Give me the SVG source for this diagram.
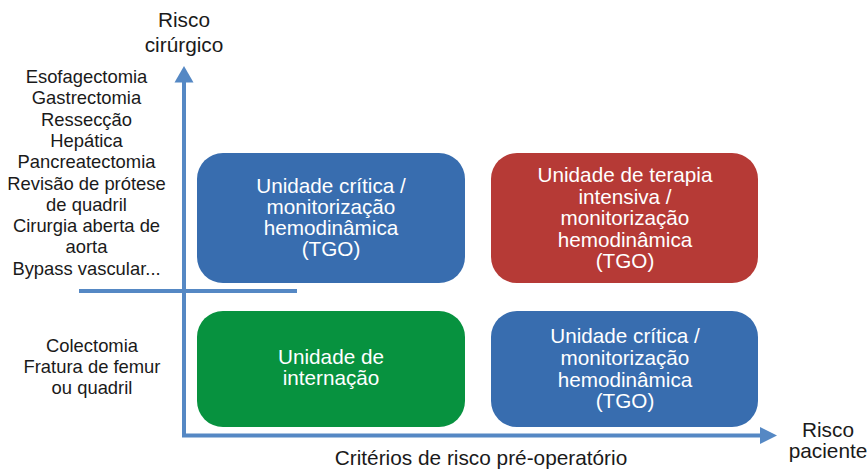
<svg xmlns="http://www.w3.org/2000/svg" width="868" height="469" viewBox="0 0 868 469">
<style>
.lbl{font-family:"Liberation Sans",Arial,sans-serif;fill:#1a1a1a;text-anchor:middle}
.list{font-size:18.4px}
.ax{font-size:20.8px}
.box text{font-family:"Liberation Sans",Arial,sans-serif;fill:#ffffff;text-anchor:middle;font-size:20.7px}
.axis{stroke:#5588c4;stroke-width:4;fill:none}
.head{fill:#5588c4}
</style>
<rect width="868" height="469" fill="#ffffff"/>
<g id="connectors">
<line class="axis" x1="184" y1="80" x2="184" y2="437"/>
<line class="axis" x1="182" y1="435.5" x2="762" y2="435.5"/>
<polygon class="head" points="184,66 193.5,82.5 174.5,82.5"/>
<polygon class="head" points="777,435.5 760,427 760,444"/>
<line class="axis" x1="79" y1="291" x2="297" y2="291"/>
</g>
<g id="node-tl" class="box">
<rect x="197" y="153" width="268" height="130" rx="26" fill="#386daf"/>
<text x="331" y="193">Unidade crítica /</text>
<text x="331" y="214">monitorização</text>
<text x="331" y="235">hemodinâmica</text>
<text x="331" y="256">(TGO)</text>
</g>
<g id="node-tr" class="box">
<rect x="491" y="153" width="267" height="130" rx="26" fill="#b63a36"/>
<text x="625" y="182">Unidade de terapia</text>
<text x="625" y="203.5">intensiva /</text>
<text x="625" y="225">monitorização</text>
<text x="625" y="246.5">hemodinâmica</text>
<text x="625" y="268">(TGO)</text>
</g>
<g id="node-bl" class="box">
<rect x="197" y="311" width="268" height="116" rx="26" fill="#07923f"/>
<text x="331" y="364">Unidade de</text>
<text x="331" y="385">internação</text>
</g>
<g id="node-br" class="box">
<rect x="491" y="311" width="267" height="116" rx="26" fill="#386daf"/>
<text x="625" y="343">Unidade crítica /</text>
<text x="625" y="365">monitorização</text>
<text x="625" y="387">hemodinâmica</text>
<text x="625" y="408">(TGO)</text>
</g>
<g id="axis-y-label" class="lbl ax">
<text x="184" y="27">Risco</text>
<text x="184" y="52">cirúrgico</text>
</g>
<g id="axis-x-label" class="lbl ax">
<text x="828" y="437">Risco</text>
<text x="828" y="458">paciente</text>
</g>
<g id="axis-x-title" class="lbl ax">
<text x="481" y="465">Critérios de risco pré-operatório</text>
</g>
<g id="high-risk-list" class="lbl list">
<text x="86.5" y="83">Esofagectomia</text>
<text x="86.5" y="104.3">Gastrectomia</text>
<text x="86.5" y="125.6">Ressecção</text>
<text x="86.5" y="146.9">Hepática</text>
<text x="86.5" y="168.2">Pancreatectomia</text>
<text x="86.5" y="189.5">Revisão de prótese</text>
<text x="86.5" y="210.8">de quadril</text>
<text x="86.5" y="232.1">Cirurgia aberta de</text>
<text x="86.5" y="253.4">aorta</text>
<text x="86.5" y="274.7">Bypass vascular...</text>
</g>
<g id="low-risk-list" class="lbl list">
<text x="92" y="352">Colectomia</text>
<text x="92" y="373">Fratura de femur</text>
<text x="92" y="394">ou quadril</text>
</g>
</svg>
